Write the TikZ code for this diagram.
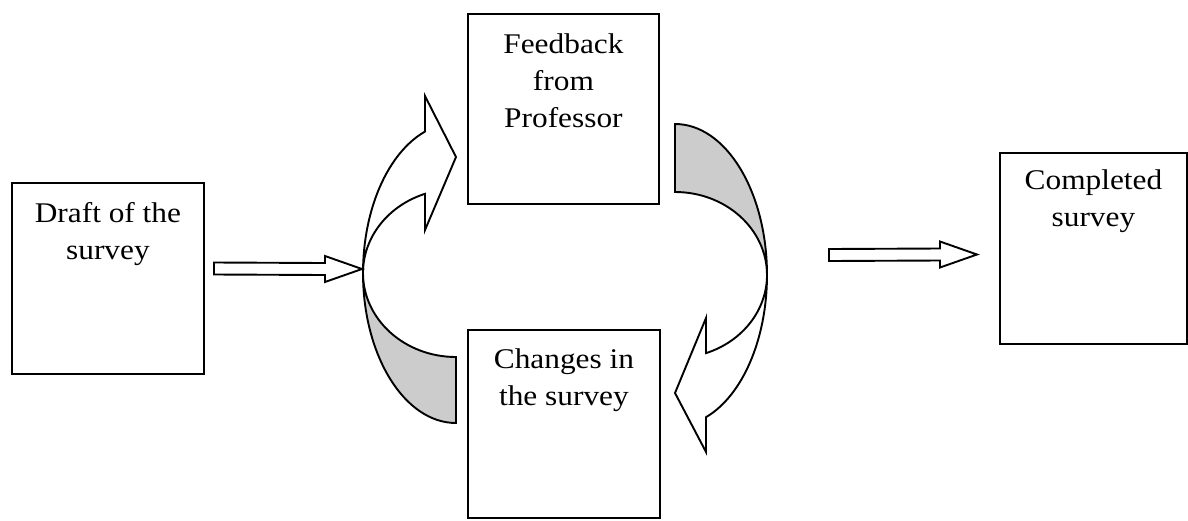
\documentclass[tikz,border=0pt]{standalone}
\usepackage{fontspec}
\setmainfont{Liberation Serif}[FakeStretch=1.1]
\usetikzlibrary{
    positioning,      % For placing the box texts below the box tops
    calc              % For offsets from named coordinates
}
\definecolor{backgray}{RGB}{204,204,204}

\begin{document}
\begin{tikzpicture}[
    % Work in pixel units of the page, y running down
    x=1pt, y=-1pt,
    % Style for every outline
    outline/.style={
        draw=black,
        line width=1.9pt,
        line join=miter
    },
    % Style for the four stage boxes (empty frames)
    stagebox/.style={
        outline,
        rectangle,
        inner sep=0pt,
        anchor=north west
    },
    % Style for the text inside the boxes
    stagetext/.style={
        inner sep=0pt,
        outer sep=0pt,
        align=center,
        anchor=north,
        font=\fontsize{28.5}{37}\selectfont
    },
    % Styles for the two faces of the curved arrows
    backface/.style={outline, fill=backgray},
    frontface/.style={outline, fill=white}
]
    \useasboundingbox (0,0) rectangle (1188,520);

    % 1. The four boxes.
    \node[stagebox, minimum width=192, minimum height=191] (draft) at (11,182) {};
    \node[stagebox, minimum width=191, minimum height=190] (feedback) at (467,13) {};
    \node[stagebox, minimum width=192, minimum height=188] (changes) at (467,329) {};
    \node[stagebox, minimum width=187, minimum height=191] (completed) at (999,152) {};

    % 2. Their texts, hung from the top edge of each box.
    \node[stagetext, below=20pt of draft.north] (drafttext) {Draft of the\\survey};
    \node[stagetext, below=21pt of feedback.north] (feedbacktext) {Feedback\\from\\Professor};
    \node[stagetext, below=20pt of changes.north] (changestext) {Changes in\\the survey};
    \node[stagetext, below=18pt of completed.north] (completedtext) {Completed\\survey};

    % 3. The two straight hollow arrows.
    \coordinate (draftout) at (214,268.5);
    \coordinate (loopin) at (362,269);
    \coordinate (loopout) at (829,255);
    \coordinate (completedin) at (977,254.5);
    \foreach \from/\to in {draftout/loopin, loopout/completedin}
        \draw[outline, fill=white]
            ($(\from)+(0,-6)$) -- ($(\to)+(-37,-6)$) -- ($(\to)+(-37,-13)$) -- (\to)
            -- ($(\to)+(-37,13)$) -- ($(\to)+(-37,6)$) -- ($(\from)+(0,6)$) -- cycle;

    % 4. Left curved arrow: from the loop entry up to the feedback box.
    \coordinate (leftc) at (456,273);
    \draw[backface] (363,273) arc[start angle=180, end angle=90, x radius=93, y radius=150]
        -- (456,357) arc[start angle=90, end angle=180, x radius=93, y radius=84] -- cycle;
    \draw[frontface] (363,273) arc[start angle=180, end angle=250.5, x radius=93, y radius=150]
        -- (425,96) -- (456,157) -- (425,230) -- ($(leftc)+(250.5:93 and 84)$)
        arc[start angle=250.5, end angle=180, x radius=93, y radius=84] -- cycle;

    % 5. Right curved arrow: from the feedback box down to the changes box.
    \coordinate (rightc) at (675,275);
    \draw[backface] (675,124) arc[start angle=270, end angle=360, x radius=92, y radius=151]
        arc[start angle=0, end angle=-90, x radius=92, y radius=83] -- cycle;
    \draw[frontface] (767,275) arc[start angle=0, end angle=70.3, x radius=92, y radius=151]
        -- (706,452) -- (675,393) -- (706,318) -- ($(rightc)+(70.3:92 and 83)$)
        arc[start angle=70.3, end angle=0, x radius=92, y radius=83] -- cycle;

\end{tikzpicture}
\end{document}
